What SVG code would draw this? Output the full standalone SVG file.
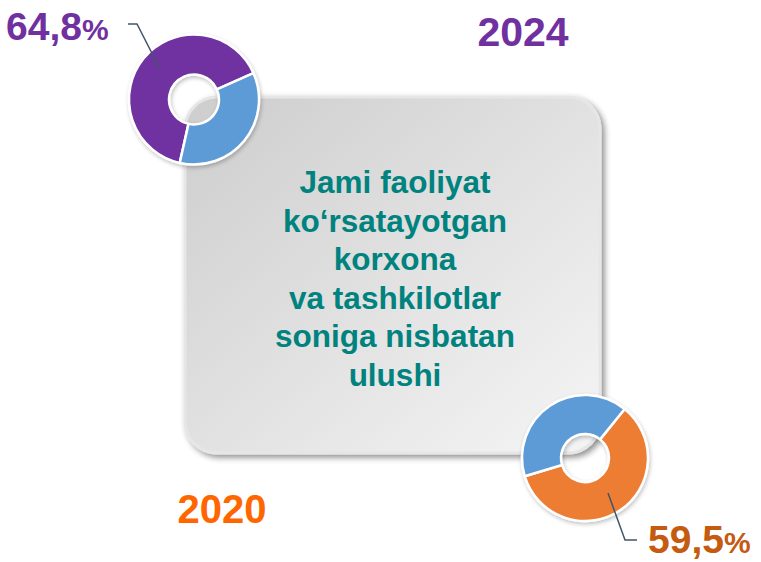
<svg xmlns="http://www.w3.org/2000/svg" width="761" height="562" viewBox="0 0 761 562">
<defs>
<linearGradient id="boxg" x1="0" y1="0" x2="1" y2="1">
<stop offset="0" stop-color="#cdcdcd"/>
<stop offset="1" stop-color="#f5f5f5"/>
</linearGradient>
<filter id="sh" x="-10%" y="-10%" width="130%" height="130%">
<feGaussianBlur in="SourceAlpha" stdDeviation="3"/>
<feOffset dx="3" dy="3"/>
<feComponentTransfer><feFuncA type="linear" slope="0.45"/></feComponentTransfer>
<feMerge><feMergeNode/><feMergeNode in="SourceGraphic"/></feMerge>
</filter>
<filter id="dsh" x="-10%" y="-10%" width="130%" height="130%">
<feGaussianBlur in="SourceAlpha" stdDeviation="2"/>
<feOffset dx="1" dy="2"/>
<feComponentTransfer><feFuncA type="linear" slope="0.25"/></feComponentTransfer>
<feMerge><feMergeNode/><feMergeNode in="SourceGraphic"/></feMerge>
</filter>
</defs>
<style>
.seg{stroke:#ffffff;stroke-width:2.5;stroke-linejoin:round}
.lead{fill:none;stroke:#44546a;stroke-width:1.5}
.t{font-family:"Liberation Sans",Arial,sans-serif;font-weight:bold}
.pct{font-size:30px}
.c{font-family:"Liberation Sans",Arial,sans-serif;font-weight:bold;font-size:31.5px;fill:#00827f;text-anchor:middle}
</style>
<rect width="761" height="562" fill="#ffffff"/>
<g id="box">
<rect x="185" y="97" width="415" height="356" rx="32" ry="32" fill="url(#boxg)" stroke="#e6e6e6" stroke-width="3" filter="url(#sh)"/>
<text class="c"><tspan x="395" y="193">Jami faoliyat</tspan><tspan x="395" y="232">ko‘rsatayotgan</tspan><tspan x="395" y="270">korxona</tspan><tspan x="395" y="309">va tashkilotlar</tspan><tspan x="395" y="347">soniga nisbatan</tspan><tspan x="395" y="386">ulushi</tspan></text>
</g>
<g id="donut2024" filter="url(#dsh)">
<path class="seg" fill="#7030a0" d="M179.71,162.91 A65,65 0 1 1 253.38,73.06 L216.84,89.33 A25,25 0 1 0 188.50,123.89 Z"/>
<path class="seg" fill="#5b9bd5" d="M253.38,73.06 A65,65 0 0 1 179.71,162.91 L188.50,123.89 A25,25 0 0 0 216.84,89.33 Z"/>
</g>
<g id="donut2020" filter="url(#dsh)">
<path class="seg" fill="#ed7d31" d="M624.65,409.04 A63,63 0 1 1 524.69,476.21 L562.02,464.94 A24,24 0 1 0 600.10,439.35 Z"/>
<path class="seg" fill="#5b9bd5" d="M524.69,476.21 A63,63 0 0 1 624.65,409.04 L600.10,439.35 A24,24 0 0 0 562.02,464.94 Z"/>
</g>
<g id="connectors">
<polyline class="lead" points="128,24 137,24 160,69"/>
<polyline class="lead" points="608,493 625,540 637,540"/>
</g>
<g id="label2024pct">
<text class="t" x="6" y="40" fill="#7030a0" font-size="39">64,8<tspan class="pct">%</tspan></text>
</g>
<g id="label2020pct">
<text class="t" x="648" y="553" fill="#c55a11" font-size="39">59,5<tspan class="pct">%</tspan></text>
</g>
<g id="year2024">
<text class="t" x="523" y="46" fill="#7030a0" font-size="41" text-anchor="middle">2024</text>
</g>
<g id="year2020">
<text class="t" x="222" y="523" fill="#ff6600" font-size="40" text-anchor="middle">2020</text>
</g>
</svg>
